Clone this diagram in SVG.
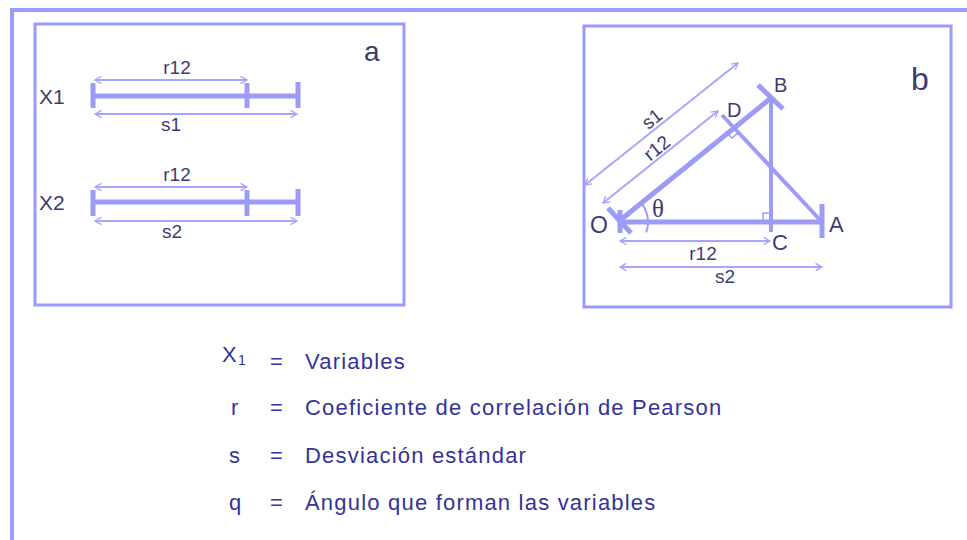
<svg xmlns="http://www.w3.org/2000/svg" width="967" height="540" viewBox="0 0 967 540">
<defs>
<marker id="ah" viewBox="0 0 10 10" refX="9" refY="5" markerWidth="8" markerHeight="8" markerUnits="userSpaceOnUse" orient="auto-start-reverse" overflow="visible">
<path d="M1,0.5 L9,5 L1,9.5" fill="none" stroke="#a4a4ff" stroke-width="1.6"/>
</marker>
<style>
.frame{fill:none;stroke:#9a9aff;stroke-width:3}
.bar{stroke:#9c9cf8;stroke-width:5;fill:none}
.tick{stroke:#9c9cf8;stroke-width:5;fill:none}
.thin{stroke:#9c9cf8;stroke-width:4;fill:none}
.dim{stroke:#a6a6ff;stroke-width:2;fill:none;marker-start:url(#ah);marker-end:url(#ah)}
.lbl{font-family:"Liberation Sans",Arial,sans-serif;fill:#3c3c72}
.leg{font-family:"Liberation Sans",Arial,sans-serif;fill:#333399;font-size:22px;letter-spacing:1.2px}
</style>
</defs>
<g id="outer">
<line x1="10" y1="10" x2="967" y2="10" stroke="#9a9aff" stroke-width="4"/>
<line x1="12" y1="8" x2="12" y2="540" stroke="#9a9aff" stroke-width="4"/>
</g>
<g id="panel-a">
<rect class="frame" x="35" y="24" width="369" height="281"/>
<text class="lbl" x="364" y="61" font-size="28">a</text>
<text class="lbl" x="39" y="104" font-size="21">X1</text>
<text class="lbl" x="39" y="210" font-size="21">X2</text>
<line class="bar" x1="93" y1="96" x2="298" y2="96"/>
<line class="tick" x1="93" y1="83" x2="93" y2="108"/>
<line class="tick" x1="247" y1="83" x2="247" y2="108"/>
<line class="tick" x1="298" y1="82" x2="298" y2="108"/>
<line class="bar" x1="93" y1="202" x2="298" y2="202"/>
<line class="tick" x1="93" y1="190" x2="93" y2="216"/>
<line class="tick" x1="247" y1="190" x2="247" y2="216"/>
<line class="tick" x1="298" y1="189" x2="298" y2="216"/>
<text class="lbl" x="177" y="74" font-size="19" text-anchor="middle">r12</text>
<text class="lbl" x="171" y="131" font-size="19" text-anchor="middle">s1</text>
<text class="lbl" x="177" y="181" font-size="19" text-anchor="middle">r12</text>
<text class="lbl" x="172" y="238" font-size="19" text-anchor="middle">s2</text>
</g>
<g id="panel-b">
<rect class="frame" x="584" y="26" width="367" height="281"/>
<text class="lbl" x="911" y="90" font-size="32">b</text>
<line class="bar" x1="618" y1="222" x2="822" y2="222"/>
<line class="bar" x1="618" y1="222" x2="771" y2="98" stroke-width="6"/>
<line class="thin" x1="771" y1="98" x2="771" y2="232"/>
<line class="thin" x1="722" y1="115" x2="822" y2="222"/>
<line class="tick" x1="758" y1="85" x2="783" y2="109" stroke-width="4"/>
<line class="tick" x1="822" y1="204" x2="822" y2="238" stroke-width="4"/>
<line class="tick" x1="608" y1="208" x2="631" y2="233" stroke-width="4"/>
<line class="tick" x1="620" y1="210" x2="620" y2="233" stroke-width="5"/>
<path d="M763,222 V213 H771" fill="none" stroke="#9c9cf8" stroke-width="1.5"/>
<path d="M726.8,132 L731.8,138.3 L738,133.2" fill="none" stroke="#9c9cf8" stroke-width="1.5"/>
<path d="M646.2,232.3 A30,30 0 0 0 641.3,203.1" fill="none" stroke="#9c9cf8" stroke-width="2"/>
<text x="652" y="217" font-size="25" font-family="'Liberation Serif','Times New Roman',serif" fill="#3c3c72">θ</text>
<text class="lbl" x="590" y="233" font-size="23">O</text>
<text class="lbl" x="829" y="232" font-size="22">A</text>
<text class="lbl" x="772" y="250" font-size="22">C</text>
<text class="lbl" x="774" y="92" font-size="20">B</text>
<text class="lbl" x="727" y="117" font-size="20">D</text>
<text class="lbl" x="703" y="260" font-size="19" text-anchor="middle">r12</text>
<text class="lbl" x="725" y="283" font-size="19" text-anchor="middle">s2</text>
<text class="lbl" x="0" y="0" font-size="19" text-anchor="middle" transform="translate(656,124) rotate(-39)">s1</text>
<text class="lbl" x="0" y="0" font-size="19" text-anchor="middle" transform="translate(661,153) rotate(-39)">r12</text>
</g>
<g id="connectors">
<line class="dim" x1="95" y1="80" x2="247" y2="80"/>
<line class="dim" x1="95" y1="114" x2="297" y2="114"/>
<line class="dim" x1="95" y1="187" x2="247" y2="187"/>
<line class="dim" x1="95" y1="221" x2="297" y2="221"/>
<line class="dim" x1="620" y1="241" x2="770" y2="241"/>
<line class="dim" x1="620" y1="267" x2="822" y2="267"/>
<line class="dim" x1="585" y1="185" x2="738" y2="63"/>
<line class="dim" x1="603" y1="203" x2="718" y2="111"/>
</g>
<g id="legend">
<text class="leg" x="222" y="362">X<tspan font-size="14" dy="3">1</tspan></text>
<text class="leg" x="231" y="415">r</text>
<text class="leg" x="229" y="463">s</text>
<text class="leg" x="229" y="510">q</text>
<text class="leg" x="270" y="369">=</text>
<text class="leg" x="270" y="415">=</text>
<text class="leg" x="270" y="463">=</text>
<text class="leg" x="270" y="510">=</text>
<text class="leg" x="305" y="369">Variables</text>
<text class="leg" x="305" y="415">Coeficiente de correlación de Pearson</text>
<text class="leg" x="305" y="463">Desviación estándar</text>
<text class="leg" x="305" y="510">Ángulo que forman las variables</text>
</g>
</svg>
